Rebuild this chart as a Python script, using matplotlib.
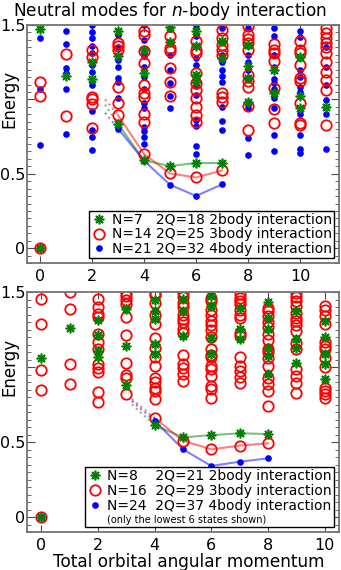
import matplotlib
matplotlib.use("Agg")
import matplotlib.pyplot as plt
from matplotlib.ticker import MultipleLocator

# -------------------------
# top panel: N=7/14/21, spectra per L = 0..11
# -------------------------
top_green = [
    [0.0, 1.473], [1.158], [1.254, 1.135], [0.836, 1.293, 1.462],
    [0.590, 1.176, 1.333], [0.552, 1.385, 1.484],
    [0.572, 1.119, 1.164, 1.356, 1.462], [0.572, 1.277, 1.390],
    [0.984, 1.142, 1.225, 1.367], [1.041, 1.198],
    [0.944, 1.023, 1.282], [0.951],
]
top_red = [
    [0.0, 1.020, 1.119], [0.890, 1.304],
    [0.809, 0.966, 1.0, 1.018, 1.286, 1.331],
    [0.894, 0.973, 1.086, 1.330, 1.356, 1.378],
    [0.633, 0.849, 0.899, 1.018, 1.041, 1.097, 1.243, 1.322, 1.435, 1.457],
    [0.502, 1.025, 1.119, 1.209, 1.322, 1.345, 1.424],
    [0.475, 0.845, 0.894, 0.951, 1.007, 1.063, 1.108, 1.176, 1.311, 1.333, 1.390],
    [0.522, 0.984, 1.014, 1.041, 1.300, 1.333, 1.367, 1.412, 1.468],
    [0.793, 0.957, 1.086, 1.124, 1.164, 1.333, 1.378, 1.408, 1.435, 1.491],
    [0.842, 0.935, 1.074, 1.261, 1.315, 1.333, 1.372],
    [0.827, 0.842, 0.973, 1.124, 1.147, 1.232, 1.311, 1.333, 1.390],
    [0.827, 1.063, 1.131, 1.187, 1.254, 1.311, 1.350, 1.378, 1.410, 1.446, 1.480],
]
top_blue = [
    [0.0, 0.696, 1.068, 1.412], [0.766, 1.068, 1.180, 1.214, 1.372, 1.462],
    [0.662, 0.745, 0.797, 0.924, 1.100, 1.187, 1.232, 1.311, 1.356, 1.412, 1.453, 1.498],
    [0.804, 1.007, 1.115, 1.142, 1.216, 1.265, 1.350, 1.435],
    [0.588, 0.703, 0.748, 0.788, 0.816, 0.939, 0.973, 1.070, 1.150, 1.220, 1.289, 1.401, 1.498],
    [0.426, 0.939, 1.020, 1.110, 1.200, 1.300, 1.470],
    [0.351, 0.631, 0.687, 0.820, 0.860, 1.030, 1.090, 1.230, 1.280, 1.424, 1.498],
    [0.428, 0.797, 0.854, 0.951, 1.120, 1.160, 1.200, 1.250, 1.300, 1.480],
    [0.624, 0.741, 0.940, 1.200, 1.250, 1.300, 1.480],
    [0.651, 0.759, 0.940, 1.010, 1.070, 1.110, 1.140, 1.220, 1.300, 1.424, 1.480],
    [0.642, 0.669, 0.759, 0.900, 1.050, 1.080, 1.150, 1.200, 1.420, 1.462],
    [0.664, 0.905, 0.995, 1.100, 1.220, 1.350],
]
top_line_L = [3, 4, 5, 6, 7]
top_line_green = [0.836, 0.590, 0.552, 0.572, 0.572]
top_line_red = [0.894, 0.633, 0.502, 0.475, 0.522]
top_line_blue = [0.804, 0.588, 0.426, 0.351, 0.428]
top_dot_L = [2.5, 3]
top_dot_green = [0.965, 0.836]
top_dot_red = [1.0, 0.894]
top_dot_blue = [0.91, 0.804]
top_labels = ["N=7   2Q=18 2body interaction",
              "N=14 2Q=25 3body interaction",
              "N=21 2Q=32 4body interaction"]

# -------------------------
# bottom panel: N=8/16/24, spectra per L = 0..10
# -------------------------
bot_green = [
    [0.0, 1.058], [1.262], [1.067, 1.107, 1.211, 1.311], [0.878, 1.140, 1.384],
    [0.611, 1.085, 1.151, 1.318, 1.373, 1.447], [0.531, 1.207, 1.373, 1.456],
    [0.546, 1.085, 1.196, 1.407, 1.473], [0.558, 1.184, 1.251, 1.396],
    [0.553, 0.951, 1.073, 1.129, 1.251, 1.329, 1.433], [1.024, 1.129, 1.184, 1.373],
    [0.918, 1.018, 1.085, 1.200, 1.307],
]
bot_red = [
    [0.0, 0.847, 0.980, 1.289, 1.451], [0.884, 1.022, 1.384, 1.500],
    [0.767, 0.833, 0.969, 0.996, 1.018, 1.122, 1.167, 1.218, 1.336, 1.351, 1.402, 1.456],
    [0.822, 0.929, 0.944, 1.024, 1.211, 1.333, 1.418, 1.447, 1.473, 1.496],
    [0.660, 0.789, 0.840, 0.862, 0.900, 0.929, 1.007, 1.069, 1.130, 1.196, 1.284,
     1.350, 1.430, 1.480, 1.496],
    [0.509, 0.907, 0.951, 0.996, 1.018, 1.078, 1.230, 1.251, 1.300, 1.320, 1.350,
     1.400, 1.430, 1.470, 1.491],
    [0.451, 0.796, 0.853, 0.873, 0.940, 0.985, 1.007, 1.070, 1.080, 1.118, 1.200,
     1.250, 1.280, 1.310, 1.350, 1.380, 1.440, 1.460],
    [0.476, 0.891, 0.936, 0.975, 1.007, 1.069, 1.210, 1.230, 1.330, 1.350, 1.380,
     1.420, 1.440, 1.460, 1.484],
    [0.491, 0.740, 0.840, 0.884, 0.930, 1.007, 1.060, 1.100, 1.120, 1.180, 1.220,
     1.270, 1.300, 1.340, 1.373, 1.396],
    [0.824, 0.896, 0.940, 0.989, 1.120, 1.160, 1.240, 1.280, 1.310, 1.330, 1.360,
     1.410, 1.440, 1.470, 1.491],
    [0.796, 0.818, 0.840, 0.862, 1.000, 1.060, 1.120, 1.140, 1.170, 1.290, 1.340,
     1.380, 1.407],
]
bot_blue = [[0.0], [], [], [], [0.642], [0.451], [0.340], [0.369], [0.391], [], []]
bot_line_L = [4, 5, 6, 7, 8]
bot_line_green = [0.611, 0.531, 0.546, 0.558, 0.553]
bot_line_red = [0.660, 0.509, 0.451, 0.476, 0.491]
bot_line_blue = [0.642, 0.451, 0.340, 0.369, 0.391]
bot_dot_L = [3.2, 4]
bot_dot_green = [0.751, 0.611]
bot_dot_red = [0.785, 0.660]
bot_dot_blue = [0.773, 0.642]
bot_labels = ["N=8    2Q=21 2body interaction",
              "N=16  2Q=29 3body interaction",
              "N=24  2Q=37 4body interaction",
              "(only the lowest 6 states shown)"]

GREEN = dict(marker=(8, 2, 0), ms=7, mew=1.2, color="g", mec="g", linestyle="none")
RED = dict(marker="o", ms=7.5, mew=1.3, mfc="none", mec="r", linestyle="none")
BLUE = dict(marker="o", ms=4.8, mew=0, color="b", linestyle="none")


def plot_spectrum(ax, cols, style):
    xs = [L for L, vals in enumerate(cols) for _ in vals]
    ys = [v for vals in cols for v in vals]
    return ax.plot(xs, ys, **style)[0]


def draw_panel(ax, green, red, blue, line_L, lines, dot_L, dots, xmax):
    for (c, yl), yd in zip(lines, dots):
        ax.plot(line_L, yl, "-", color=c, lw=1.5, alpha=0.5)
        ax.plot(dot_L, yd, ":", color=c, lw=1.5, alpha=0.5)
    hb = plot_spectrum(ax, blue, BLUE)
    hr = plot_spectrum(ax, red, RED)
    hg = plot_spectrum(ax, green, GREEN)

    ax.set_xlim(-0.5, xmax)
    ax.set_ylim(-0.1, 1.5)
    ax.xaxis.set_major_locator(MultipleLocator(2))
    ax.set_yticks([0, 0.5, 1.0, 1.5])
    ax.set_yticklabels(["0", "0.5", "", "1.5"])
    ax.yaxis.set_minor_locator(MultipleLocator(0.05))
    ax.tick_params(which="both", direction="in", top=True, right=True,
                   labelsize=11.5, color="0.3")
    ax.tick_params(axis="y", which="major", length=6, pad=1)
    ax.tick_params(axis="y", which="minor", length=3)
    ax.tick_params(axis="x", which="major", length=5, pad=4.5)
    for s in ax.spines.values():
        s.set_color("0.45")
        s.set_linewidth(1.3)
    ax.set_ylabel("Energy", fontsize=12)
    ax.yaxis.set_label_coords(-0.027, 1.1 / 1.6)
    return hg, hr, hb


fig = plt.figure(figsize=(3.41, 5.70), dpi=100)
ax1 = fig.add_axes([27 / 341, 1 - 263 / 570, 312 / 341, 238 / 570])
ax2 = fig.add_axes([27 / 341, 1 - 532 / 570, 312 / 341, 240 / 570])

h = draw_panel(ax1, top_green, top_red, top_blue, top_line_L,
               [("g", top_line_green), ("r", top_line_red), ("b", top_line_blue)],
               top_dot_L, [top_dot_green, top_dot_red, top_dot_blue], 11.5)
leg1 = ax1.legend(h, top_labels, loc="lower right", fontsize=10, numpoints=1,
                  fancybox=False, edgecolor="k", framealpha=1, borderpad=0.15,
                  labelspacing=0.05, handlelength=1.2, handletextpad=0.3,
                  borderaxespad=0.35)
leg1.get_frame().set_linewidth(1.0)

h = draw_panel(ax2, bot_green, bot_red, bot_blue, bot_line_L,
               [("g", bot_line_green), ("r", bot_line_red), ("b", bot_line_blue)],
               bot_dot_L, [bot_dot_green, bot_dot_red, bot_dot_blue], 10.5)
blank, = ax2.plot([], [], linestyle="none")
leg2 = ax2.legend(list(h) + [blank], bot_labels, loc="lower right", fontsize=10,
                  numpoints=1, fancybox=False, edgecolor="k", framealpha=1,
                  borderpad=0.15, labelspacing=0.05, handlelength=1.2,
                  handletextpad=0.3, borderaxespad=0.35)
leg2.get_frame().set_linewidth(1.0)
leg2.get_texts()[3].set_fontsize(7)
ax2.set_xlabel("Total orbital angular momentum", fontsize=12.2)
ax2.xaxis.set_label_coords(0.519, -0.086)

fig.text(170 / 341, 1 - 11 / 570, "Neutral modes for $n$-body interaction",
         ha="center", va="center", fontsize=12.2)

fig.savefig("out.png", dpi=100)
